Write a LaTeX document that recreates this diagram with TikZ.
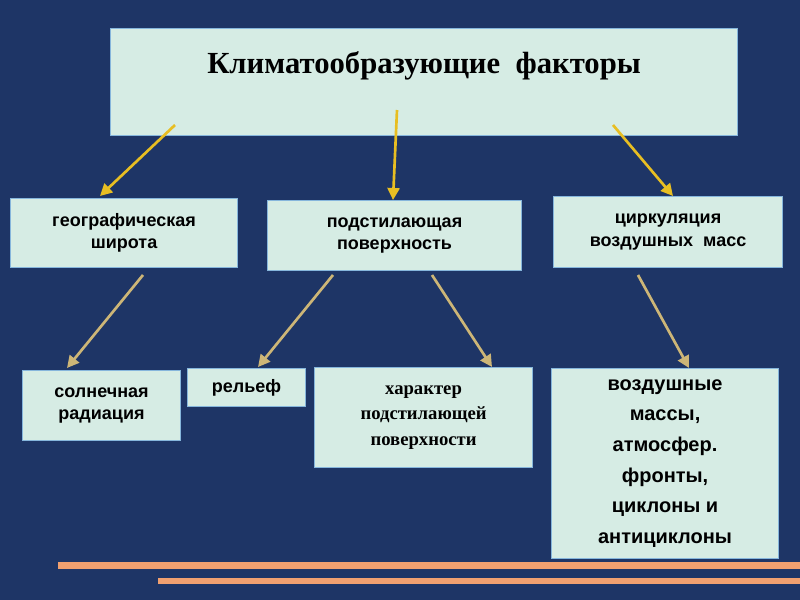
\documentclass[tikz,border=0pt]{standalone}
\usepackage{fontspec}
\setmainfont{Liberation Sans}
\newfontfamily\serf{Liberation Serif}
\usetikzlibrary{arrows.meta}
\definecolor{bg}{HTML}{1E3566}
\definecolor{boxf}{HTML}{D6ECE4}
\definecolor{boxd}{HTML}{86B6DC}
\definecolor{ya}{HTML}{E8BE22}
\definecolor{ta}{HTML}{CDB677}
\definecolor{stripe}{HTML}{F0A070}
\begin{document}
\begin{tikzpicture}[x=0.75pt,y=-0.75pt,
 bx/.style={draw=boxd,line width=0.8pt,fill=boxf,align=center,text=black,font=\bfseries\fontsize{13.5}{17}\selectfont},
 ya1/.style={draw=ya,line width=2pt,-{Triangle[length=9pt,width=9pt]}},
 ta1/.style={draw=ta,line width=2pt,-{Triangle[length=9pt,width=9pt]}}]
\fill[bg] (0,0) rectangle (800,600);
\useasboundingbox (0,0) rectangle (800,600);
\fill[stripe] (58,562) rectangle (800,569);
\fill[stripe] (158,578) rectangle (800,584);
\node[bx,minimum width=627*0.75pt,minimum height=107*0.75pt,anchor=north west,font=\serf\bfseries\fontsize{23}{28}\selectfont,text depth=30pt] (t) at (110,28) {Климатообразующие\ \ факторы};
\node[bx,minimum width=227*0.75pt,minimum height=69*0.75pt,anchor=north west] (g) at (10,198) {географическая\\широта\vphantom{g}};
\node[bx,minimum width=254*0.75pt,minimum height=70*0.75pt,anchor=north west] (p) at (267,200) {подстилающая\\поверхность};
\node[bx,minimum width=229*0.75pt,minimum height=71*0.75pt,anchor=north west] (c) at (553,196) {циркуляция\\воздушных\ \ масс};
\node[bx,minimum width=158*0.75pt,minimum height=70*0.75pt,anchor=north west] (s) at (22,370) {солнечная\\радиация};
\node[bx,minimum width=118*0.75pt,minimum height=38*0.75pt,anchor=north west] (r) at (187,368) {рельеф};
\node[bx,minimum width=218*0.75pt,minimum height=100*0.75pt,anchor=north west,font=\serf\bfseries\fontsize{14}{19}\selectfont] (h) at (314,367) {характер\\подстилающей\\поверхности};
\node[bx,minimum width=227*0.75pt,minimum height=190*0.75pt,anchor=north west,font=\bfseries\fontsize{15}{23}\selectfont] (a) at (551,368) {воздушные\\массы,\\атмосфер.\\фронты,\\циклоны и\\антициклоны};
\coordinate (t1) at (175,125); \coordinate (t2) at (397,110); \coordinate (t3) at (613,125);
\coordinate (g1) at (100,196); \coordinate (p1) at (393,200); \coordinate (c1) at (673,196);
\coordinate (gs) at (143,275); \coordinate (pr) at (333,275); \coordinate (ph) at (432,275); \coordinate (ca) at (638,275);
\coordinate (s1) at (67,368); \coordinate (r1) at (258,367); \coordinate (h1) at (492,367); \coordinate (a1) at (689,368);
\draw[ya1] (t1) -- (g1); \draw[ya1] (t2) -- (p1); \draw[ya1] (t3) -- (c1);
\draw[ta1] (gs) -- (s1); \draw[ta1] (pr) -- (r1); \draw[ta1] (ph) -- (h1); \draw[ta1] (ca) -- (a1);
\end{tikzpicture}
\end{document}
